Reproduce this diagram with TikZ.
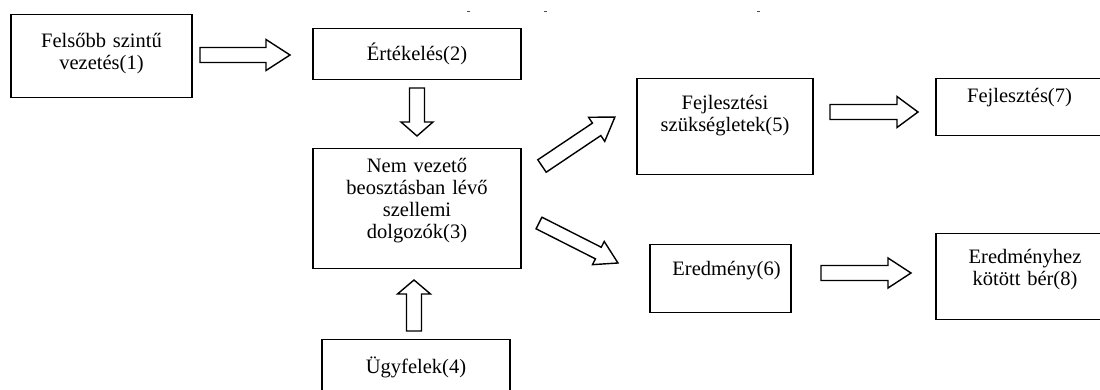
\documentclass[tikz,border=0pt]{standalone}
\usepackage{fontspec}
\setmainfont{Liberation Serif}
\usetikzlibrary{calc}
\tikzset{
  box/.style={draw, line width=0.7pt, inner sep=0pt, align=center, anchor=north,
    font=\fontsize{10.25}{11}\selectfont},
  fatarrow/.style={draw, line width=0.7pt, line join=miter}
}
% from, to, shaft half width, head half width, head length
\newcommand{\blockarrow}[5]{%
  \path[fatarrow] let \p1=(#1), \p2=(#2),
    \n1={atan2(\y2-\y1,\x2-\x1)}, \n2={veclen(\x2-\x1,\y2-\y1)} in
    [shift={(\p1)}, rotate=\n1]
    (0pt,-#3) -- (\n2-#5,-#3) -- (\n2-#5,-#4) -- (\n2,0pt)
    -- (\n2-#5,#4) -- (\n2-#5,#3) -- (0pt,#3) -- cycle;
}
\begin{document}
\begin{tikzpicture}[x=0.5pt, y=-0.5pt]
  \clip (0,0) rectangle (1100,390);

  \node[box, text width=90.5pt, text height=16.5pt, text depth=25pt] (fels) at (101.5,14)
    {Felsőbb szintű\\vezetés(1)};
  \node[box, text width=104pt, text height=16pt, text depth=9.5pt] (ertek) at (417,28)
    {Értékelés(2)};
  \node[box, text width=104pt, text height=12pt, text depth=48pt] (nemvez) at (417,148)
    {Nem vezető\\beosztásban lévő\\szellemi\\dolgozók(3)};
  \node[box, text width=94pt, text height=17pt, text depth=30pt] (ugyf) at (416,339)
    {Ügyfelek(4)};
  \node[box, text width=88pt, text height=15.5pt, text depth=32.5pt] (fejlsz) at (725,78)
    {Fejlesztési\\szükségletek(5)};
  \node[box, text width=70.5pt, text height=15.5pt, text depth=18.5pt] (ered) at (720.5,244)
    {\hspace*{6pt}Eredmény(6)};
  \node[box, text width=83.5pt, text height=12pt, text depth=16.5pt] (fejl) at (1019.5,78)
    {Fejlesztés(7)};
  \node[box, text width=89pt, text height=15pt, text depth=28pt] (eredber) at (1025,233)
    {Eredményhez\\kötött bér(8)};

  % arrow ends
  \coordinate (t12) at (200,55);  \coordinate (h12) at (290,55);
  \coordinate (t23) at (417,88);  \coordinate (h23) at (417,136);
  \coordinate (t43) at (414,331); \coordinate (h43) at (414,280);
  \coordinate (t35) at (542,166); \coordinate (h35) at (615,117);
  \coordinate (t36) at (539,223); \coordinate (h36) at (618,263);
  \coordinate (t57) at (830,112); \coordinate (h57) at (918,112);
  \coordinate (t68) at (821,273); \coordinate (h68) at (911,273);

  \blockarrow{t12}{h12}{3.75pt}{7.75pt}{12pt}
  \blockarrow{t23}{h23}{3.75pt}{8pt}{7pt}
  \blockarrow{t43}{h43}{3.75pt}{8.25pt}{7pt}
  \blockarrow{t35}{h35}{3.75pt}{7.25pt}{11pt}
  \blockarrow{t36}{h36}{3.25pt}{6.5pt}{11pt}
  \blockarrow{t57}{h57}{3.75pt}{7.75pt}{10.5pt}
  \blockarrow{t68}{h68}{3.75pt}{7.5pt}{11.5pt}

  \draw[line width=0.4pt, black!70] (467,11) -- (470,11) (544,11) -- (547,11) (757,11) -- (760,11);
\end{tikzpicture}
\end{document}
